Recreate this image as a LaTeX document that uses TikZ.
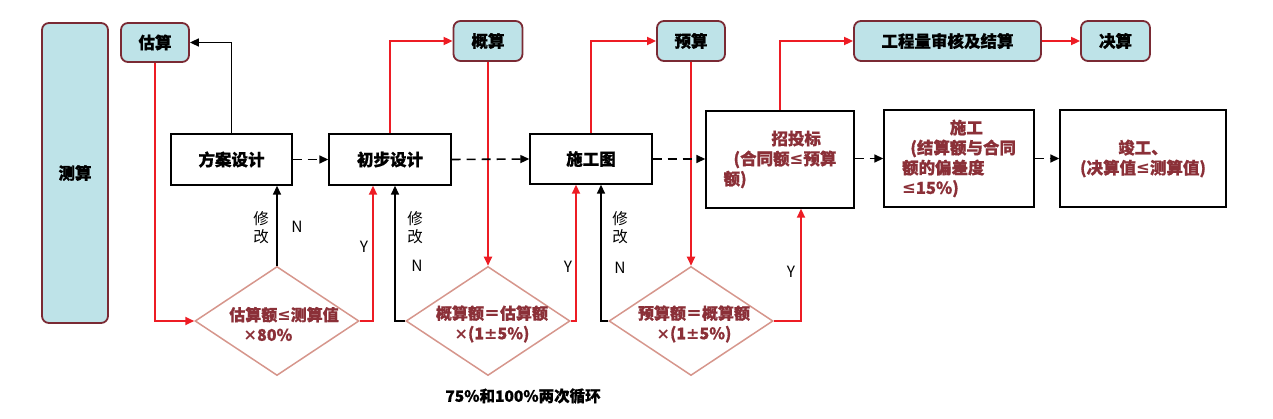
\documentclass[tikz,border=0pt]{standalone}
\usepackage{fontspec}
\setmainfont{Noto Sans CJK SC}[BoldFeatures={FakeBold=0.7}]
\newfontfamily\symf{DejaVu Sans}
\newcommand{\myle}{{\symf\bfseries ≤}}
\newcommand{\mypm}{{\symf\bfseries ±}}
\newcommand{\mytimes}{{\symf\bfseries ×}}
\usetikzlibrary{shapes.geometric,arrows.meta}
\definecolor{boxfill}{RGB}{190,227,232}
\definecolor{boxline}{RGB}{122,42,52}
\definecolor{redline}{RGB}{237,28,36}
\definecolor{dialine}{RGB}{214,150,140}
\definecolor{txtred}{RGB}{139,48,56}
\tikzset{
  topbox/.style={draw=boxline,line width=1.8pt,fill=boxfill,rounded corners=7pt,inner sep=0pt,font=\bfseries\fontsize{16.5}{18}\selectfont,text=black},
  stepbox/.style={draw=black,line width=1.4pt,fill=white,inner sep=0pt,font=\bfseries\fontsize{16.5}{20}\selectfont},
  decide/.style={draw=dialine,line width=1.5pt,diamond,inner sep=0pt,minimum width=164pt,minimum height=109pt},
  dtext/.style={font=\bfseries\fontsize{16}{20}\selectfont,text=txtred,align=center,inner sep=0pt},
  tip/.style={-{Triangle[length=9pt,width=8pt]}},
  redarrow/.style={tip,draw=redline,line width=1.8pt},
  blkarrow/.style={tip,draw=black,line width=1.6pt},
  dasharrow/.style={tip,draw=black,line width=1.6pt,dash pattern=on 9pt off 6pt},
  lbl/.style={font=\fontsize{15.5}{18}\selectfont,inner sep=0pt,align=center},
}
\begin{document}
\begin{tikzpicture}[x=1pt,y=-1pt]
\useasboundingbox (0,0) rectangle (1273,419);
% top boxes
\node[topbox,minimum width=66pt,minimum height=300pt] (cs) at (75,173) {测算};
\node[topbox,minimum width=68pt,minimum height=39pt] (gu) at (155,42.5) {估算};
\node[topbox,minimum width=69pt,minimum height=40pt] (gs) at (488,41) {概算};
\node[topbox,minimum width=68pt,minimum height=40pt] (ys) at (691,41) {预算};
\node[topbox,minimum width=187pt,minimum height=40pt] (gc) at (947.5,41) {工程量审核及结算};
\node[topbox,minimum width=69pt,minimum height=40pt] (js) at (1115.5,41) {决算};
% step boxes
\node[stepbox,minimum width=121pt,minimum height=51pt] (fa) at (231.5,159.5) {方案设计};
\node[stepbox,minimum width=122pt,minimum height=51pt] (cb) at (390,159.5) {初步设计};
\node[stepbox,minimum width=122pt,minimum height=50pt] (sg) at (591,159) {施工图};
\node[stepbox,minimum width=148pt,minimum height=97pt,text=txtred,align=left] (zt) at (780,159.5)
  {\hspace*{2.9em}招投标\\\hspace*{0.6em}(合同额\myle 预算\\额)};
\node[stepbox,minimum width=150pt,minimum height=97pt,text=txtred,align=left] (sw) at (959,158.5)
  {\hspace*{2.9em}施工\\\hspace*{0.5em}(结算额与合同\\额的偏差度\\\myle 15\%)};
\node[stepbox,minimum width=166pt,minimum height=97pt,text=txtred,align=center] (jg) at (1143,158.5)
  {竣工、\\(决算值\myle 测算值)};
% diamonds
\node[decide] (d1) at (277,321) {};
\node[dtext] (d1t) at (284,324) {估算额\myle 测算值\\\mytimes 80\%\hspace*{2em}};
\node[decide] (d2) at (488,321) {};
\node[dtext] (d2t) at (492,324) {概算额＝估算额\\\mytimes(1\mypm 5\%)};
\node[decide] (d3) at (691,321) {};
\node[dtext] (d3t) at (694,324) {预算额＝概算额\\\mytimes(1\mypm 5\%)};
% bottom note
\node[font=\bfseries\fontsize{15.5}{18}\selectfont,inner sep=0pt] (note) at (523,396) {75\%和100\%两次循环};
% labels
\node[lbl] (m1) at (261,228) {修\\改};
\node[lbl] (n1) at (297,227) {N};
\node[lbl] (y1) at (364,247) {Y};
\node[lbl] (m2) at (415,228) {修\\改};
\node[lbl] (n2) at (417,266) {N};
\node[lbl] (y2) at (568,267) {Y};
\node[lbl] (m3) at (620,228) {修\\改};
\node[lbl] (n3) at (620,268) {N};
\node[lbl] (y3) at (791,272) {Y};
% connectors
\draw[blkarrow] (fa.north) |- (gu.east);
\draw[redarrow] (gu.south) |- (d1.west);
\draw[blkarrow] (d1.north) -- (d1.north |- fa.south);
\draw[redarrow] (d1.east) -| ([xshift=-17pt]cb.south);
\draw[redarrow] (cb.north) |- (gs.west);
\draw[redarrow] (gs.south) -- (d2.north);
\draw[blkarrow] (d2.west) -| ([xshift=5pt]cb.south);
\draw[redarrow] (d2.east) -| ([xshift=-15pt]sg.south);
\draw[redarrow] (sg.north) |- (ys.west);
\draw[redarrow] (ys.south) -- (d3.north);
\draw[blkarrow] (d3.west) -| ([xshift=10pt]sg.south);
\draw[redarrow] (d3.east) -| ([xshift=21pt]zt.south);
\draw[redarrow] (zt.north) |- (gc.west);
\draw[redarrow] (gc.east) -- (js.west);
\draw[dasharrow] (fa.east) -- (cb.west);
\draw[dasharrow] (cb.east) -- (sg.west);
\draw[dasharrow] (sg.east) -- (sg.east -| zt.west);
\draw[dasharrow] (zt.east |- sw.west) -- (sw.west);
\draw[dasharrow] (sw.east) -- (jg.west);
\end{tikzpicture}
\end{document}
